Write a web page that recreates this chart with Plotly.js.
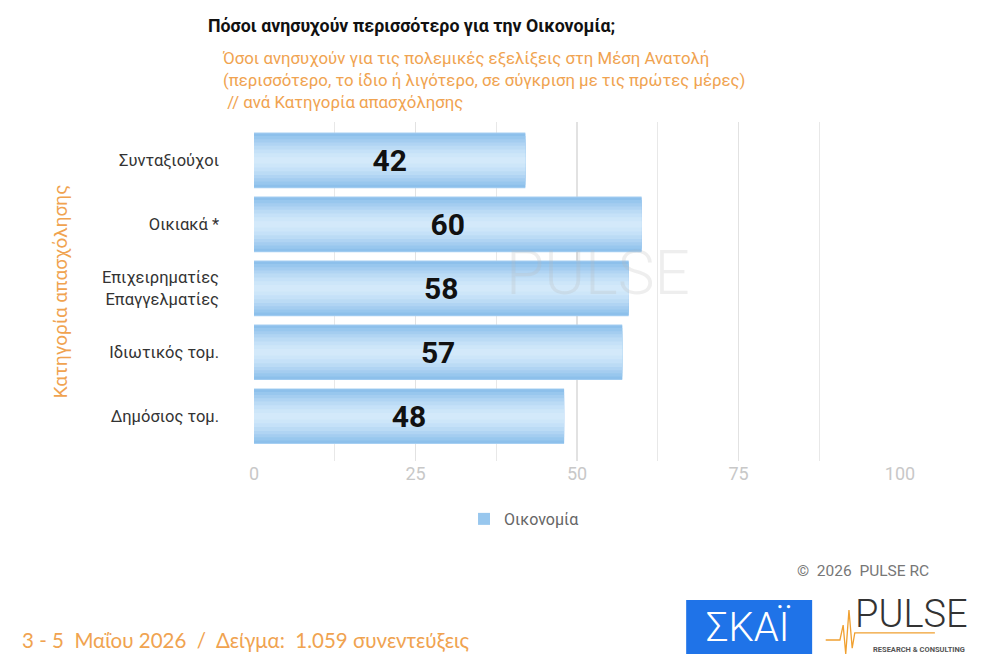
<!DOCTYPE html>
<html>
<head>
<meta charset="utf-8">
<script src="https://cdn.plot.ly/plotly-3.0.1.min.js"></script>
<style>html,body{margin:0;padding:0;background:#fff;}#chart{width:982px;height:654px;}</style>
</head>
<body>
<div id="chart"></div>
<script>
const categories = ["Συνταξιούχοι", "Οικιακά *", "Επιχειρηματίες<br>Επαγγελματίες", "Ιδιωτικός τομ.", "Δημόσιος τομ."];
const values = [42, 60, 58, 57, 48];
const seriesName = "Οικονομία";
const xTicks = [0, 25, 50, 75, 100];

// layered bars (same data, narrower each time) imitate the glossy gradient fill
const layers = [
  {w: 0.87, c: "#a6cff2"},
  {w: 0.84, c: "#8dc0eb"},
  {w: 0.76, c: "#98c7ee"},
  {w: 0.66, c: "#a4cdf0"},
  {w: 0.56, c: "#b0d4f3"},
  {w: 0.46, c: "#bbdbf5"},
  {w: 0.34, c: "#c5e1f8"},
  {w: 0.22, c: "#cde6f9"},
  {w: 0.10, c: "#d3e9fa"}
];
const traces = layers.map((l, i) => ({
  type: "bar", orientation: "h",
  x: values, y: categories,
  width: categories.map(() => l.w),
  marker: {color: l.c, line: {width: 0}},
  name: seriesName, showlegend: i === 2,
  hoverinfo: "skip"
}));
traces.push({
  type: "bar", orientation: "h",
  x: values, y: categories,
  width: categories.map(() => 0.87),
  marker: {color: "rgba(0,0,0,0)"},
  text: values.map(String), textposition: "inside", insidetextanchor: "middle",
  textfont: {family: "Roboto, sans-serif", size: 30, color: "#111", weight: 700},
  constraintext: "none",
  showlegend: false, hoverinfo: "skip"
});

const orange = "#f0a350";
const layout = {
  width: 982, height: 654,
  margin: {l: 254, r: 82, t: 122, b: 193},
  paper_bgcolor: "#fff", plot_bgcolor: "#fff",
  barmode: "overlay",
  showlegend: true,
  legend: {orientation: "h", x: 0.418, xanchor: "center", y: -0.171, yanchor: "middle",
    font: {family: "Roboto, sans-serif", size: 16, color: "#666"}},
  xaxis: {range: [0, 100], tickvals: xTicks, ticktext: xTicks.map(String),
    showgrid: true, gridcolor: "#e2e2e2", gridwidth: 1.5, zeroline: false,
    minor: {dtick: 12.5, showgrid: true, gridcolor: "#e8e8e8", gridwidth: 1.2},
    tickfont: {family: "Roboto, sans-serif", size: 18, color: "#c8c8c8"},
    showline: false, fixedrange: true},
  yaxis: {range: [4.7, -0.6], showgrid: false, zeroline: false,
    ticklabelstandoff: 34,
    tickfont: {family: "Roboto, sans-serif", size: 16.5, color: "#333"},
    title: {text: "Κατηγορία απασχόλησης", standoff: 29,
      font: {family: "Roboto, sans-serif", size: 19, color: orange}}},
  shapes: [
    {type: "rect", xref: "paper", yref: "paper", x0: 0.669, x1: 0.864, y0: -0.575, y1: -0.410,
      fillcolor: "#1f73e8", line: {width: 0}},
    {type: "path", xref: "paper", yref: "paper",
      path: "M 0.885 -0.528 L 0.907 -0.528 L 0.912 -0.484 L 0.916 -0.569 L 0.921 -0.440 L 0.926 -0.552 L 0.930 -0.507 L 1.054 -0.507",
      line: {color: "#f0a030", width: 1.3}}
  ],
  annotations: [
    {xref: "paper", yref: "paper", x: 0.532, y: 0.557, text: "PULSE", showarrow: false,
      font: {family: "Roboto, sans-serif", size: 62, weight: 300, color: "rgba(185,185,185,0.24)"}},
    {xref: "paper", yref: "paper", x: 0, y: 1, xshift: -48, yshift: 96, xanchor: "left", yanchor: "middle",
      text: "<b>Πόσοι ανησυχούν περισσότερο για την Οικονομία;</b>", showarrow: false,
      font: {family: "Roboto, sans-serif", size: 17.8, color: "#111"}},
    {xref: "paper", yref: "paper", x: 0, y: 1, xshift: -34, yshift: 42, xanchor: "left", yanchor: "middle",
      text: "Όσοι ανησυχούν για τις πολεμικές εξελίξεις στη Μέση Ανατολή<br>(περισσότερο, το ίδιο ή λιγότερο, σε σύγκριση με τις πρώτες μέρες)<br> // ανά Κατηγορία απασχόλησης",
      align: "left", showarrow: false,
      font: {family: "Roboto, sans-serif", size: 16.8, color: orange}},
    {xref: "paper", yref: "paper", x: 1, y: 0, xshift: 31, yshift: -110, xanchor: "right", yanchor: "middle",
      text: "©  2026  PULSE RC", showarrow: false,
      font: {family: "Roboto, sans-serif", size: 15.5, color: "#777"}},
    {xref: "paper", yref: "paper", x: 0, y: 0, xshift: -234, yshift: -179, xanchor: "left", yanchor: "middle",
      text: "3 - 5  Μαΐου 2026  /  Δείγμα:  1.059 συνεντεύξεις", showarrow: false,
      font: {family: "Lato, sans-serif", size: 20.5, color: orange}},
    {xref: "paper", yref: "paper", x: 0.766, y: -0.490, xanchor: "center", yanchor: "middle",
      text: "ΣΚΑΪ", showarrow: false,
      font: {family: "Roboto, sans-serif", size: 40, weight: 300, color: "#fff"}},
    {xref: "paper", yref: "paper", x: 0.927, y: -0.452, xanchor: "left", yanchor: "middle",
      text: "PULSE", showarrow: false,
      font: {family: "Roboto, sans-serif", size: 38, weight: 300, color: "#333"}},
    {xref: "paper", yref: "paper", x: 1.030, y: -0.556, xanchor: "center", yanchor: "middle",
      text: "<b>RESEARCH & CONSULTING</b>", showarrow: false,
      font: {family: "Roboto, sans-serif", size: 7.5, color: "#555"}}
  ]
};
Plotly.newPlot("chart", traces, layout, {displayModeBar: false, staticPlot: true});
</script>
</body>
</html>
